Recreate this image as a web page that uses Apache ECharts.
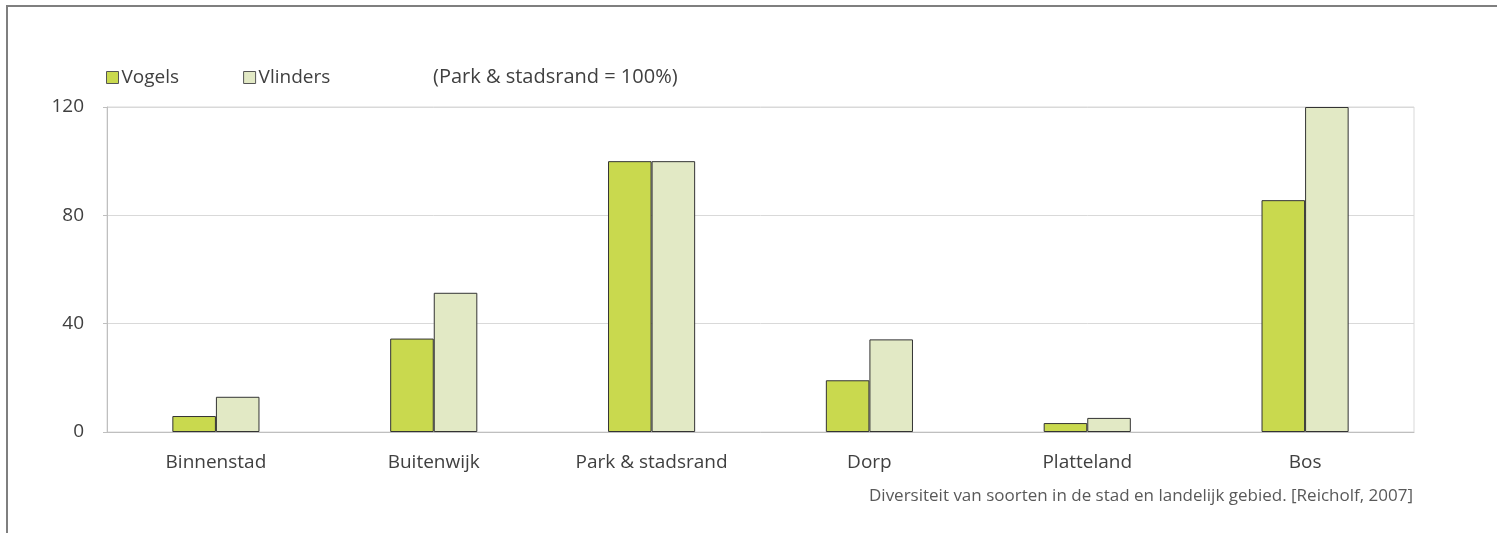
<!DOCTYPE html>
<html>
<head>
<meta charset="utf-8">
<script src="https://cdn.jsdelivr.net/npm/echarts@6/dist/echarts.min.js"></script>
<style>
  html, body { margin: 0; padding: 0; background: #ffffff; }
  #chart { width: 1497px; height: 533px; }
</style>
</head>
<body>
<div id="chart"></div>
<script>
// Species diversity per habitat, relative to park & city edge (= 100)
const categories = ['Binnenstad', 'Buitenwijk', 'Park & stadsrand', 'Dorp', 'Platteland', 'Bos'];
const vogels   = [5.9, 34.5, 100, 19.1, 3.3, 85.6];
const vlinders = [13, 51.4, 100, 34.2, 5.2, 120];
const yTicks = [0, 40, 80, 120];

const FONT = '"Open Sans", Lato, sans-serif';
const chart = echarts.init(document.getElementById('chart'), null, { renderer: 'canvas' });

chart.setOption({
  animation: false,
  backgroundColor: '#ffffff',
  textStyle: { fontFamily: FONT },
  grid: { left: 107, right: 83, top: 107, bottom: 101, show: true, borderColor: '#d9d9d9', borderWidth: 1 },
  legend: {
    left: 106, top: 68, padding: 0,
    itemWidth: 12, itemHeight: 12, itemGap: 64,
    icon: 'rect',
    textStyle: { fontFamily: FONT, fontSize: 19, color: '#404040', padding: [0, 0, 0, -2] },
    data: [
      { name: 'Vogels', itemStyle: { borderColor: '#555', borderWidth: 1 } },
      { name: 'Vlinders', itemStyle: { borderColor: '#555', borderWidth: 1 } }
    ]
  },
  xAxis: {
    type: 'category',
    data: categories,
    axisLine: { lineStyle: { color: '#bfbfbf' } },
    axisTick: { show: false },
    axisLabel: { fontFamily: FONT, fontSize: 19, color: '#404040', margin: 21 }
  },
  yAxis: {
    type: 'value',
    min: yTicks[0], max: yTicks[yTicks.length - 1], interval: 40,
    axisLine: { show: true, lineStyle: { color: '#bfbfbf' } },
    axisTick: { show: true, length: 4, lineStyle: { color: '#bfbfbf' } },
    splitLine: { lineStyle: { color: '#d9d9d9' } },
    axisLabel: { fontFamily: FONT, fontSize: 19, color: '#404040', margin: 23 }
  },
  series: [
    {
      name: 'Vogels', type: 'bar', data: vogels,
      barGap: '0%', barCategoryGap: '60%',
      itemStyle: { color: '#c9d94e', borderColor: '#333333', borderWidth: 1 }
    },
    {
      name: 'Vlinders', type: 'bar', data: vlinders,
      itemStyle: { color: '#e2e9c5', borderColor: '#333333', borderWidth: 1 }
    }
  ],
  graphic: [
    // outer frame: top and left edges
    { type: 'line', shape: { x1: 6, y1: 6, x2: 1497, y2: 6 }, style: { stroke: '#7f7f7f', lineWidth: 2 } },
    { type: 'line', shape: { x1: 7, y1: 6, x2: 7, y2: 533 }, style: { stroke: '#7f7f7f', lineWidth: 2 } },
    {
      type: 'text', left: 433, top: 67,
      style: { text: '(Park & stadsrand = 100%)', font: '20px ' + FONT, fill: '#404040' }
    },
    {
      type: 'text', right: 84, top: 488,
      style: { text: 'Diversiteit van soorten in de stad en landelijk gebied. [Reicholf, 2007]', font: '17px ' + FONT, fill: '#595959' }
    }
  ]
});
</script>
</body>
</html>
